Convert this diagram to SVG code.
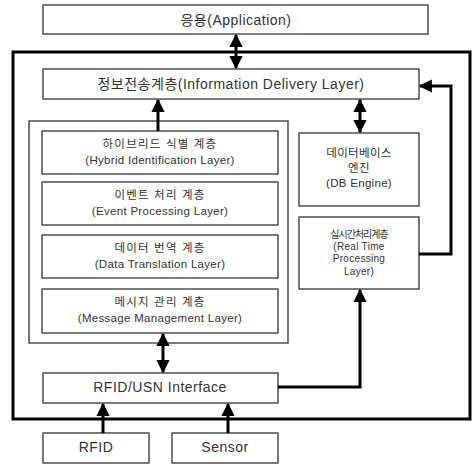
<svg xmlns="http://www.w3.org/2000/svg" width="474" height="465" viewBox="0 0 474 465">
<style>
.box{fill:#fff;stroke:#333;stroke-width:1.3}
.outer{fill:none;stroke:#000;stroke-width:3}
.t{font-family:"Liberation Sans","Noto Sans CJK KR",sans-serif;fill:#333;text-anchor:middle}
.big{font-size:14px;letter-spacing:0.5px}
.mid{font-size:11.5px;letter-spacing:0.3px}
.ko{letter-spacing:1.2px}
.sm{font-size:10px;letter-spacing:0.3px}
.ksm{letter-spacing:-1px}
.c{fill:none;stroke:#000;stroke-width:3}
</style>
<defs>
<marker id="ah" viewBox="0 0 10 10" refX="9" refY="5" markerWidth="4.4" markerHeight="4.4" orient="auto-start-reverse" markerUnits="strokeWidth">
<path d="M0,0 L10,5 L0,10 z" fill="#000"/>
</marker>
</defs>
<rect class="outer" x="13" y="52" width="457" height="367"/>
<g id="app"><rect class="box" x="43" y="5" width="385" height="29"/><text class="t big" x="236" y="25">응용(Application)</text></g>
<g id="info"><rect class="box" x="43" y="69" width="376" height="30"/><text class="t big" x="231" y="89">정보전송계층(Information Delivery Layer)</text></g>
<g id="container"><rect class="box" x="29" y="121" width="259" height="222"/></g>
<g id="hybrid"><rect class="box" x="42" y="131" width="236" height="43"/><text class="t mid ko" x="160" y="148">하이브리드 식별 계층</text><text class="t mid" x="160" y="164">(Hybrid Identification Layer)</text></g>
<g id="event"><rect class="box" x="42" y="182" width="236" height="43"/><text class="t mid ko" x="160" y="199">이벤트 처리 계층</text><text class="t mid" x="160" y="215">(Event Processing Layer)</text></g>
<g id="translation"><rect class="box" x="42" y="235" width="236" height="43"/><text class="t mid ko" x="160" y="252">데이터 번역 계층</text><text class="t mid" x="160" y="268">(Data Translation Layer)</text></g>
<g id="message"><rect class="box" x="42" y="289" width="236" height="44"/><text class="t mid ko" x="160" y="306">메시지 관리 계층</text><text class="t mid" x="160" y="322">(Message Management Layer)</text></g>
<g id="db"><rect class="box" x="299" y="133" width="120" height="73"/><text class="t mid" x="359" y="157">데이터베이스</text><text class="t mid" x="359" y="172">엔진</text><text class="t mid" x="359" y="187">(DB Engine)</text></g>
<g id="realtime"><rect class="box" x="299" y="217" width="120" height="72"/><text class="t sm ksm" x="359" y="238">실시간처리계층</text><text class="t sm" x="359" y="250">(Real Time</text><text class="t sm" x="359" y="262">Processing</text><text class="t sm" x="359" y="275">Layer)</text></g>
<g id="iface"><rect class="box" x="43" y="373" width="235" height="30"/><text class="t big" x="160" y="392">RFID/USN Interface</text></g>
<g id="rfid"><rect class="box" x="43" y="433" width="106" height="30"/><text class="t big" x="96" y="452">RFID</text></g>
<g id="sensor"><rect class="box" x="172" y="433" width="106" height="30"/><text class="t big" x="225" y="452">Sensor</text></g>
<g id="connectors">
<line class="c" x1="236" y1="35" x2="236" y2="68" marker-start="url(#ah)" marker-end="url(#ah)"/>
<line class="c" x1="158" y1="131" x2="158" y2="100" marker-end="url(#ah)"/>
<line class="c" x1="360" y1="100" x2="360" y2="132" marker-start="url(#ah)" marker-end="url(#ah)"/>
<polyline class="c" points="419,254 451,254 451,86 420,86" marker-end="url(#ah)"/>
<polyline class="c" points="278,387 360,387 360,290" marker-end="url(#ah)"/>
<line class="c" x1="163" y1="334" x2="163" y2="372" marker-start="url(#ah)" marker-end="url(#ah)"/>
<line class="c" x1="103" y1="433" x2="103" y2="404" marker-end="url(#ah)"/>
<line class="c" x1="228" y1="433" x2="228" y2="404" marker-end="url(#ah)"/>
</g>
</svg>
